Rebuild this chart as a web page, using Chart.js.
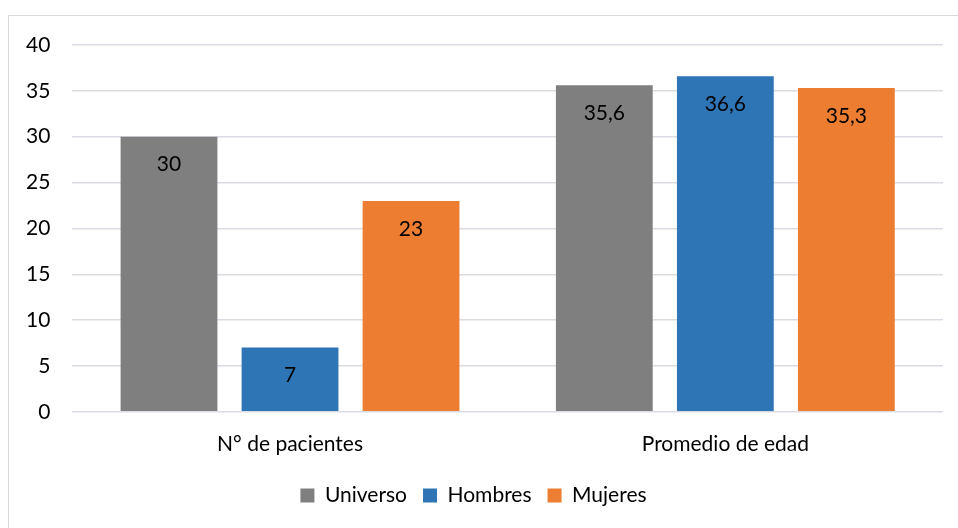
<!DOCTYPE html>
<html>
<head>
    <title>Pacientes y edad</title>
    <script src="https://cdn.jsdelivr.net/npm/chart.js"></script>
    <style>
        body {
            margin: 0;
            background: #fff;
            font-family: Lato, sans-serif;
        }
        #wrap {
            position: relative;
            width: 958px;
            height: 528px;
        }
        #frame {
            position: absolute;
            left: 8px;
            top: 15px;
            width: 960px;
            height: 530px;
            border: 1px solid #d9d9d9;
            box-sizing: border-box;
        }
        canvas {
            position: absolute;
            left: 0;
            top: 0;
        }
    </style>
</head>
<body>
    <div id="wrap">
        <div id="frame"></div>
        <canvas id="chart" width="958" height="528"></canvas>
    </div>

    <script>
        const categories = ['N° de pacientes', 'Promedio de edad'];
        const universo = [30, 35.6];
        const hombres = [7, 36.6];
        const mujeres = [23, 35.3];
        const yTicks = [0, 5, 10, 15, 20, 25, 30, 35, 40];

        // etiquetas de valor dentro de la barra
        const valueLabels = {
            id: 'valueLabels',
            afterDatasetsDraw(chart) {
                const ctx = chart.ctx;
                ctx.save();
                ctx.font = '21px Lato, sans-serif';
                ctx.fillStyle = '#000';
                ctx.textAlign = 'center';
                ctx.textBaseline = 'middle';
                chart.data.datasets.forEach((ds, i) => {
                    chart.getDatasetMeta(i).data.forEach((bar, j) => {
                        const txt = String(ds.data[j]).replace('.', ',');
                        ctx.fillText(txt, bar.x, bar.y + 28);
                    });
                });
                ctx.restore();
            }
        };

        const ctx = document.getElementById('chart').getContext('2d');
        new Chart(ctx, {
            type: 'bar',
            data: {
                labels: categories,
                datasets: [
                    { label: 'Universo', data: universo, backgroundColor: '#7f7f7f' },
                    { label: 'Hombres', data: hombres, backgroundColor: '#2e75b6' },
                    { label: 'Mujeres', data: mujeres, backgroundColor: '#ed7d31' }
                ]
            },
            options: {
                responsive: false,
                animation: false,
                categoryPercentage: 0.834,
                barPercentage: 0.8,
                layout: { padding: { left: 4, right: 15, top: 45, bottom: 12 } },
                scales: {
                    x: {
                        grid: { display: false },
                        border: { display: false },
                        ticks: { color: '#000', font: { family: 'Lato', size: 21 }, padding: 12 }
                    },
                    y: {
                        min: 0,
                        max: 40,
                        afterBuildTicks(axis) { axis.ticks = yTicks.map(v => ({ value: v })); },
                        grid: { color: '#d9dde3', lineWidth: 1.5, drawTicks: false },
                        border: { display: false },
                        ticks: { color: '#000', font: { family: 'Lato', size: 21 }, padding: 22 }
                    }
                },
                plugins: {
                    legend: {
                        position: 'bottom',
                        labels: {
                            color: '#000',
                            font: { family: 'Lato', size: 21 },
                            boxWidth: 14,
                            boxHeight: 14,
                            padding: 16
                        }
                    },
                    tooltip: { enabled: false }
                }
            },
            plugins: [valueLabels]
        });
    </script>
</body>
</html>
